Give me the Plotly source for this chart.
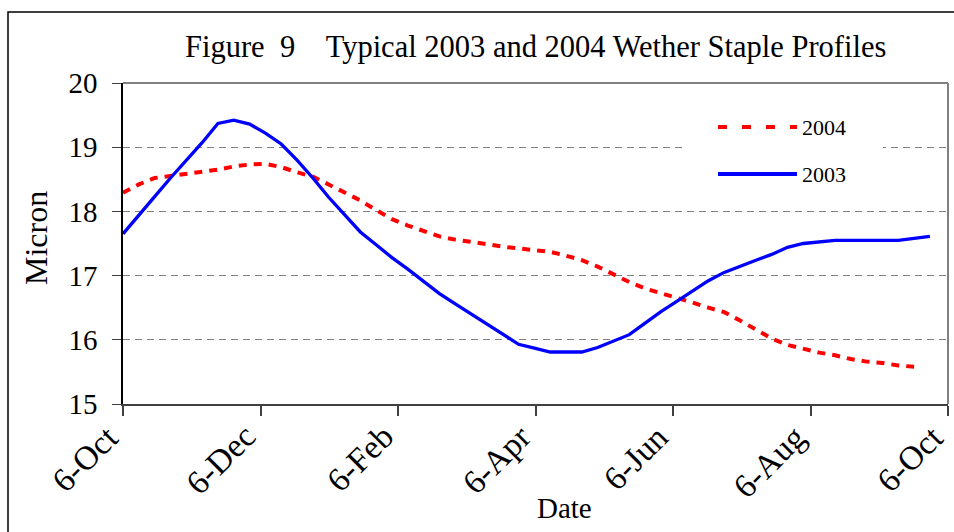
import plotly.graph_objects as go

# ---- data ----
week = list(range(52))  # weekly samples starting 6-Oct
micron_2003 = [17.65, 17.95, 18.23, 18.52, 18.79, 19.07, 19.37, 19.42, 19.36, 19.22,
               19.05, 18.80, 18.52, 18.22, 17.95, 17.68, 17.48, 17.28, 17.10, 16.91,
               16.72, 16.56, 16.40, 16.24, 16.08, 15.93, 15.87, 15.81, 15.81, 15.81,
               15.88, 15.98, 16.08, 16.26, 16.44, 16.60, 16.76, 16.92, 17.05, 17.15,
               17.24, 17.33, 17.44, 17.50, 17.53, 17.55, 17.55, 17.55, 17.55, 17.55,
               17.58, 17.61]
micron_2004 = [18.29, 18.42, 18.52, 18.55, 18.58, 18.61, 18.65, 18.70, 18.73, 18.74,
               18.69, 18.61, 18.54, 18.42, 18.30, 18.17, 18.02, 17.88, 17.78, 17.69,
               17.61, 17.56, 17.53, 17.49, 17.45, 17.42, 17.40, 17.37, 17.31, 17.24,
               17.14, 17.02, 16.90, 16.80, 16.73, 16.66, 16.58, 16.50, 16.43, 16.30,
               16.16, 16.02, 15.92, 15.86, 15.80, 15.76, 15.70, 15.66, 15.64, 15.60,
               15.58]
tick_labels = ["6-Oct", "6-Dec", "6-Feb", "6-Apr", "6-Jun", "6-Aug", "6-Oct"]
y_ticks = [15, 16, 17, 18, 19, 20]

YEAR_DAYS = 365
days_2003 = [w * 7 for w in week[:len(micron_2003)]]
days_2004 = [w * 7 for w in week[:len(micron_2004)]]
tick_vals = [YEAR_DAYS * k / 6 for k in range(len(tick_labels))]

W, H = 954, 532
ML, MR, MT, MB = 123, 6, 83, 128
PW, PH = W - ML - MR, H - MT - MB


def px(x):
    return (x - ML) / PW


def py(y):
    return (H - MB - y) / PH


FONT = "Liberation Serif"

fig = go.Figure()
fig.add_trace(go.Scatter(x=days_2004, y=micron_2004, mode="lines", name="2004",
                         line=dict(color="#FF0000", width=4, dash="8px,7px")))
fig.add_trace(go.Scatter(x=days_2003, y=micron_2003, mode="lines", name="2003",
                         line=dict(color="#0000FF", width=3.3)))

shapes = [
    # outer chart frame
    dict(type="rect", xref="paper", yref="paper", x0=px(8), y0=py(545), x1=px(962), y1=py(12),
         line=dict(color="black", width=1.5), fillcolor="rgba(0,0,0,0)", layer="above"),
    # plot area top / right border
    dict(type="line", xref="paper", yref="paper", x0=0, y0=1, x1=1, y1=1,
         line=dict(color="#808080", width=2), layer="above"),
    dict(type="line", xref="paper", yref="paper", x0=1, y0=0, x1=1, y1=1,
         line=dict(color="#808080", width=2), layer="above"),
    # legend background
    dict(type="rect", xref="paper", yref="paper", x0=px(683), y0=py(192), x1=px(883), y1=py(105),
         line=dict(width=0), fillcolor="white", layer="above"),
    # legend samples
    dict(type="line", xref="paper", yref="paper", x0=px(718), y0=py(127), x1=px(797), y1=py(127),
         line=dict(color="#FF0000", width=4, dash="9px,15px"), layer="above"),
    dict(type="line", xref="paper", yref="paper", x0=px(718), y0=py(174), x1=px(797), y1=py(174),
         line=dict(color="#0000FF", width=4), layer="above"),
]

annotations = [
    dict(text="Figure\u00a0\u00a09\u00a0\u00a0\u00a0\u00a0Typical 2003 and 2004 Wether Staple Profiles",
         xref="paper", yref="paper", x=0.5, y=py(47), showarrow=False,
         xanchor="center", yanchor="middle", font=dict(family=FONT, size=30.5, color="black")),
    dict(text="Micron", xref="paper", yref="paper", x=px(36), y=py(238), textangle=-90,
         showarrow=False, xanchor="center", yanchor="middle",
         font=dict(family=FONT, size=32, color="black")),
    dict(text="Date", xref="paper", yref="paper", x=px(564), y=py(508), showarrow=False,
         xanchor="center", yanchor="middle", font=dict(family=FONT, size=29, color="black")),
    dict(text="2004", xref="paper", yref="paper", x=px(800), y=py(127), showarrow=False,
         xanchor="left", yanchor="middle", font=dict(family=FONT, size=22, color="black")),
    dict(text="2003", xref="paper", yref="paper", x=px(800), y=py(174), showarrow=False,
         xanchor="left", yanchor="middle", font=dict(family=FONT, size=22, color="black")),
]
# x tick labels, rotated, ending at each tick
for tv, tl in zip(tick_vals, tick_labels):
    annotations.append(dict(text=tl, xref="x", yref="paper", x=tv, y=py(415), textangle=-45,
                            showarrow=False, xanchor="right", yanchor="top", xshift=5,
                            font=dict(family=FONT, size=33.5, color="black")))

fig.update_layout(
    width=W, height=H,
    margin=dict(l=ML, r=MR, t=MT, b=MB, pad=0),
    paper_bgcolor="white", plot_bgcolor="white",
    showlegend=False,
    shapes=shapes, annotations=annotations,
    font=dict(family=FONT, color="black"),
    xaxis=dict(range=[0, YEAR_DAYS], tickmode="array", tickvals=tick_vals,
               showticklabels=False, ticks="outside", ticklen=10, tickwidth=1.5,
               tickcolor="#404040", showline=True, linecolor="#404040", linewidth=2,
               showgrid=False, zeroline=False),
    yaxis=dict(range=[15, 20], tickmode="array", tickvals=y_ticks,
               ticks="outside", ticklen=9, tickwidth=1.2, tickcolor="#404040",
               showline=True, linecolor="black", linewidth=1.5, zeroline=False,
               showgrid=True, gridcolor="#808080", gridwidth=1, griddash="7px,5px",
               ticklabelstandoff=9,
               tickfont=dict(family=FONT, size=29, color="black")),
)

fig.write_html("out.html", config={"displayModeBar": False},
               post_script="document.body.style.margin='0';document.body.style.overflow='hidden';")
